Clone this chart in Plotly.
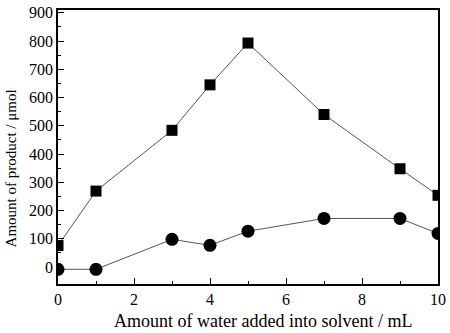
import plotly.graph_objects as go

water_ml = [0, 1, 3, 4, 5, 7, 9, 10]
product_square = [76, 269, 484, 645, 793, 540, 348, 254]
product_circle = [-8, -8, 98, 77, 127, 172, 172, 119]

fig = go.Figure()
fig.add_trace(go.Scatter(x=water_ml, y=product_square, mode="lines+markers",
                         line=dict(color="#555555", width=1),
                         marker=dict(symbol="square", size=11, color="black")))
fig.add_trace(go.Scatter(x=water_ml, y=product_circle, mode="lines+markers",
                         line=dict(color="#555555", width=1),
                         marker=dict(symbol="circle", size=13, color="black")))

font = dict(family="Liberation Serif, Times New Roman, serif", size=16, color="black")
fig.update_layout(
    width=450, height=333,
    margin=dict(l=58, r=8, t=4, b=49),
    paper_bgcolor="white", plot_bgcolor="white",
    showlegend=False, font=font,
    annotations=[
        dict(text="Amount of water added into solvent / mL", xref="paper", yref="paper",
             x=0.539, y=-0.136, xanchor="center", yanchor="middle", showarrow=False,
             font=dict(size=18)),
        dict(text="Amount of product / μmol", xref="paper", yref="paper",
             x=-0.125, y=0.42, xanchor="center", yanchor="middle", showarrow=False,
             textangle=-90, font=dict(size=15)),
    ],
)
fig.update_xaxes(range=[0, 10], dtick=2, tick0=0, ticks="inside", ticklen=6,
                 tickcolor="black", showline=True, linecolor="black", linewidth=1.5,
                 mirror=True, showgrid=False, zeroline=False,
                 minor=dict(ticks="inside", ticklen=3, dtick=1, tickcolor="black"),
                 tickfont=dict(size=16))
fig.update_yaxes(range=[-60, 910], tickvals=list(range(0, 901, 100)), ticks="inside",
                 ticklen=6, tickcolor="black", showline=True, linecolor="black",
                 linewidth=1.5, mirror=True, showgrid=False, zeroline=False,
                 minor=dict(ticks="inside", ticklen=3, tickvals=list(range(50, 901, 100)),
                            tickcolor="black"),
                 tickfont=dict(size=16))
fig.write_html("out.html")
